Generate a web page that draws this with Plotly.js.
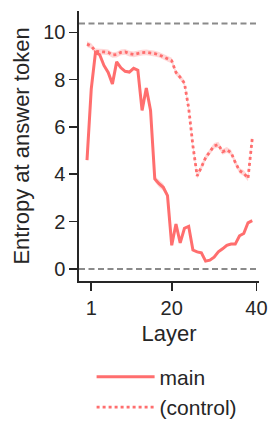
<!DOCTYPE html>
<html><head><meta charset="utf-8">
<script src="https://cdn.plot.ly/plotly-3.0.1.min.js"></script>
<style>html,body{margin:0;padding:0;background:#fff;}#chart{width:279px;height:438px;}</style>
</head><body><div id="chart"></div>
<script>
// layer index (0-based) for each measured point
const layers = [0,1,2,3,4,5,6,7,8,9,10,11,12,13,14,15,16,17,18,19,20,21,22,23,24,25,26,27,28,29,30,31,32,33,34,35,36,37,38,39];
const xTickVals = [1,20,40];
const xTickText = ['1','20','40'];
const yTickVals = [0,2,4,6,8,10];
const refLines = [0, 10.37];

const mainVals = [4.6,7.6,9.15,9.05,8.6,8.3,7.82,8.75,8.5,8.35,8.32,8.48,8.4,6.7,7.65,6.7,3.8,3.6,3.45,3.1,1.0,1.9,1.1,1.72,1.8,0.8,0.72,0.68,0.33,0.37,0.5,0.72,0.85,1.0,1.05,1.05,1.4,1.5,1.95,2.04];
const mainErr = [0.05,0.05,0.05,0.05,0.05,0.05,0.05,0.05,0.05,0.05,0.05,0.05,0.05,0.06,0.06,0.08,0.12,0.15,0.15,0.1,0.06,0.06,0.05,0.05,0.05,0.05,0.05,0.05,0.05,0.05,0.05,0.05,0.05,0.05,0.05,0.05,0.05,0.05,0.05,0.05];
const controlVals = [9.5,9.42,9.2,9.17,9.17,9.15,9.04,9.06,9.15,9.17,9.1,9.07,9.12,9.14,9.15,9.14,9.1,9.05,8.97,8.9,8.8,8.3,8.1,7.85,6.8,5.2,3.93,4.3,4.7,4.95,5.2,5.25,4.95,5.03,4.92,4.5,4.15,4.05,3.83,5.5];
const controlErr = [0.12,0.12,0.12,0.12,0.12,0.12,0.12,0.12,0.12,0.12,0.12,0.12,0.12,0.12,0.12,0.12,0.12,0.12,0.12,0.12,0.12,0.12,0.12,0.12,0.12,0.12,0.12,0.12,0.12,0.12,0.12,0.12,0.12,0.12,0.12,0.12,0.12,0.12,0.12,0.12];

const lineColor = '#ff6e6e';
const bandColor = 'rgba(255,110,110,0.28)';
const ink = '#262626';
const fontFam = 'Liberation Sans, Arial, sans-serif';

function band(vals, err) {
  return [
    {x: layers, y: vals.map((v,i)=>v+err[i]), mode:'lines', line:{width:0, color:bandColor}, showlegend:false, hoverinfo:'skip'},
    {x: layers, y: vals.map((v,i)=>v-err[i]), mode:'lines', line:{width:0, color:bandColor}, fill:'tonexty', fillcolor:bandColor, showlegend:false, hoverinfo:'skip'}
  ];
}

const traces = [
  ...band(controlVals, controlErr),
  ...band(mainVals, mainErr),
  {x: layers, y: mainVals, name:'main', mode:'lines', line:{color:lineColor, width:3}},
  {x: layers, y: controlVals, name:'(control)', mode:'lines', line:{color:lineColor, width:2.8, dash:'dot'}}
];

const shapes = refLines.map(v => ({type:'line', xref:'paper', x0:0, x1:1, yref:'y', y0:v, y1:v, line:{color:'#8a8a8a', width:2, dash:'6px,3.5px'}, layer:'below'}));

const layout = {
  width: 279, height: 438,
  margin: {l:79, r:20, t:11, b:157},
  paper_bgcolor:'#fff', plot_bgcolor:'#fff',
  font: {family: fontFam, color: ink},
  showlegend: true,
  legend: {x:0.07, y:-0.28, xanchor:'left', yanchor:'top', orientation:'v', traceorder:'normal', font:{size:21, color:ink}, bgcolor:'rgba(0,0,0,0)', itemwidth:58},
  shapes: shapes,
  xaxis: {
    range: [-1.89, 40.6], tickmode:'array', tickvals: xTickVals, ticktext: xTickText,
    ticks:'outside', ticklen:8, tickwidth:1.6, tickcolor:ink,
    showline:true, linecolor:ink, linewidth:1.6, showgrid:false, zeroline:false,
    tickfont:{size:20, color:ink},
    title:{text:'Layer', font:{size:22, color:ink}, standoff:8}
  },
  yaxis: {
    range: [-0.51, 10.9], tickmode:'array', tickvals: yTickVals,
    ticks:'outside', ticklen:8, tickwidth:1.6, tickcolor:ink,
    showline:true, linecolor:ink, linewidth:1.6, showgrid:false, zeroline:false,
    tickfont:{size:20, color:ink},
    title:{text:'Entropy at answer token', font:{size:22, color:ink}, standoff:7}
  }
};

Plotly.newPlot('chart', traces, layout, {displayModeBar:false, staticPlot:true});
</script></body></html>
